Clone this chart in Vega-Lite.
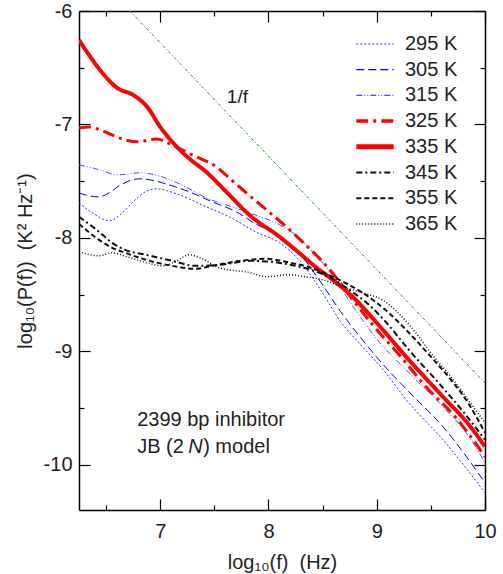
{
  "$schema": "https://vega.github.io/schema/vega-lite/v6.json",
  "width": 406,
  "height": 499,
  "autosize": {"type": "none"},
  "padding": {"left": 79, "top": 11, "right": 18, "bottom": 64},
  "config": {
    "view": {"stroke": null},
    "font": "Liberation Sans",
    "axis": {
      "domainColor": "#000",
      "domainWidth": 1.5,
      "tickColor": "#000",
      "tickWidth": 1.2,
      "labelFont": "Liberation Sans",
      "labelFontSize": 20,
      "labelColor": "#222",
      "titleFont": "Liberation Sans",
      "titleFontSize": 20,
      "titleFontWeight": "normal",
      "titleColor": "#222",
      "grid": false,
      "labelFlush": false,
      "labelOverlap": false,
      "labelBound": false
    },
    "legend": {
      "orient": "none",
      "legendX": 286,
      "legendY": 23,
      "padding": 0,
      "labelFont": "Liberation Sans",
      "labelFontSize": 20,
      "labelColor": "#222",
      "symbolType": "stroke",
      "symbolSize": 1400,
      "labelOffset": 20,
      "rowPadding": 5.7
    }
  },
  "datasets": {
    "curves": [
      {"T": "295 K", "x": 6.25, "y": -7.692},
      {"T": "295 K", "x": 6.389, "y": -7.789},
      {"T": "295 K", "x": 6.528, "y": -7.85},
      {"T": "295 K", "x": 6.63, "y": -7.797},
      {"T": "295 K", "x": 6.741, "y": -7.692},
      {"T": "295 K", "x": 6.861, "y": -7.595},
      {"T": "295 K", "x": 6.963, "y": -7.568},
      {"T": "295 K", "x": 7.176, "y": -7.621},
      {"T": "295 K", "x": 7.426, "y": -7.727},
      {"T": "295 K", "x": 7.639, "y": -7.815},
      {"T": "295 K", "x": 7.88, "y": -7.947},
      {"T": "295 K", "x": 8.102, "y": -8.044},
      {"T": "295 K", "x": 8.296, "y": -8.211},
      {"T": "295 K", "x": 8.481, "y": -8.458},
      {"T": "295 K", "x": 8.667, "y": -8.74},
      {"T": "295 K", "x": 8.852, "y": -8.943},
      {"T": "295 K", "x": 9.037, "y": -9.137},
      {"T": "295 K", "x": 9.296, "y": -9.454},
      {"T": "295 K", "x": 9.611, "y": -9.78},
      {"T": "295 K", "x": 10.0, "y": -10.247},

      {"T": "305 K", "x": 6.25, "y": -7.604},
      {"T": "305 K", "x": 6.343, "y": -7.63},
      {"T": "305 K", "x": 6.435, "y": -7.639},
      {"T": "305 K", "x": 6.528, "y": -7.604},
      {"T": "305 K", "x": 6.62, "y": -7.542},
      {"T": "305 K", "x": 6.806, "y": -7.48},
      {"T": "305 K", "x": 6.907, "y": -7.489},
      {"T": "305 K", "x": 7.019, "y": -7.515},
      {"T": "305 K", "x": 7.269, "y": -7.595},
      {"T": "305 K", "x": 7.481, "y": -7.683},
      {"T": "305 K", "x": 7.704, "y": -7.771},
      {"T": "305 K", "x": 7.88, "y": -7.877},
      {"T": "305 K", "x": 8.102, "y": -7.982},
      {"T": "305 K", "x": 8.296, "y": -8.15},
      {"T": "305 K", "x": 8.481, "y": -8.388},
      {"T": "305 K", "x": 8.667, "y": -8.652},
      {"T": "305 K", "x": 8.852, "y": -8.881},
      {"T": "305 K", "x": 9.037, "y": -9.093},
      {"T": "305 K", "x": 9.296, "y": -9.357},
      {"T": "305 K", "x": 9.611, "y": -9.665},
      {"T": "305 K", "x": 10.0, "y": -10.159},

      {"T": "315 K", "x": 6.25, "y": -7.357},
      {"T": "315 K", "x": 6.444, "y": -7.401},
      {"T": "315 K", "x": 6.602, "y": -7.445},
      {"T": "315 K", "x": 6.815, "y": -7.427},
      {"T": "315 K", "x": 7.019, "y": -7.463},
      {"T": "315 K", "x": 7.269, "y": -7.568},
      {"T": "315 K", "x": 7.426, "y": -7.648},
      {"T": "315 K", "x": 7.639, "y": -7.718},
      {"T": "315 K", "x": 7.852, "y": -7.789},
      {"T": "315 K", "x": 8.102, "y": -7.885},
      {"T": "315 K", "x": 8.25, "y": -7.974},
      {"T": "315 K", "x": 8.389, "y": -8.106},
      {"T": "315 K", "x": 8.574, "y": -8.308},
      {"T": "315 K", "x": 8.759, "y": -8.573},
      {"T": "315 K", "x": 8.991, "y": -8.881},
      {"T": "315 K", "x": 9.296, "y": -9.189},
      {"T": "315 K", "x": 9.611, "y": -9.489},
      {"T": "315 K", "x": 9.852, "y": -9.753},
      {"T": "315 K", "x": 10.0, "y": -9.982},

      {"T": "325 K", "x": 6.25, "y": -7.031},
      {"T": "325 K", "x": 6.343, "y": -7.022},
      {"T": "325 K", "x": 6.444, "y": -7.048},
      {"T": "325 K", "x": 6.556, "y": -7.093},
      {"T": "325 K", "x": 6.676, "y": -7.137},
      {"T": "325 K", "x": 6.787, "y": -7.154},
      {"T": "325 K", "x": 6.963, "y": -7.128},
      {"T": "325 K", "x": 7.111, "y": -7.181},
      {"T": "325 K", "x": 7.296, "y": -7.269},
      {"T": "325 K", "x": 7.519, "y": -7.374},
      {"T": "325 K", "x": 7.657, "y": -7.489},
      {"T": "325 K", "x": 7.796, "y": -7.604},
      {"T": "325 K", "x": 7.981, "y": -7.753},
      {"T": "325 K", "x": 8.176, "y": -7.912},
      {"T": "325 K", "x": 8.343, "y": -8.062},
      {"T": "325 K", "x": 8.5, "y": -8.211},
      {"T": "325 K", "x": 8.62, "y": -8.344},
      {"T": "325 K", "x": 8.778, "y": -8.546},
      {"T": "325 K", "x": 8.963, "y": -8.767},
      {"T": "325 K", "x": 9.222, "y": -9.048},
      {"T": "325 K", "x": 9.454, "y": -9.313},
      {"T": "325 K", "x": 9.731, "y": -9.586},
      {"T": "325 K", "x": 9.889, "y": -9.78},
      {"T": "325 K", "x": 10.0, "y": -9.93},

      {"T": "335 K", "x": 6.25, "y": -6.256},
      {"T": "335 K", "x": 6.343, "y": -6.388},
      {"T": "335 K", "x": 6.444, "y": -6.52},
      {"T": "335 K", "x": 6.602, "y": -6.678},
      {"T": "335 K", "x": 6.75, "y": -6.74},
      {"T": "335 K", "x": 6.88, "y": -6.846},
      {"T": "335 K", "x": 7.0, "y": -7.022},
      {"T": "335 K", "x": 7.12, "y": -7.163},
      {"T": "335 K", "x": 7.25, "y": -7.286},
      {"T": "335 K", "x": 7.435, "y": -7.427},
      {"T": "335 K", "x": 7.62, "y": -7.604},
      {"T": "335 K", "x": 7.833, "y": -7.806},
      {"T": "335 K", "x": 8.102, "y": -7.991},
      {"T": "335 K", "x": 8.25, "y": -8.106},
      {"T": "335 K", "x": 8.435, "y": -8.256},
      {"T": "335 K", "x": 8.593, "y": -8.37},
      {"T": "335 K", "x": 8.778, "y": -8.52},
      {"T": "335 K", "x": 8.991, "y": -8.74},
      {"T": "335 K", "x": 9.296, "y": -9.075},
      {"T": "335 K", "x": 9.611, "y": -9.401},
      {"T": "335 K", "x": 9.852, "y": -9.648},
      {"T": "335 K", "x": 10.0, "y": -9.841},

      {"T": "345 K", "x": 6.25, "y": -7.815},
      {"T": "345 K", "x": 6.435, "y": -7.947},
      {"T": "345 K", "x": 6.556, "y": -8.044},
      {"T": "345 K", "x": 6.676, "y": -8.106},
      {"T": "345 K", "x": 6.87, "y": -8.15},
      {"T": "345 K", "x": 7.111, "y": -8.203},
      {"T": "345 K", "x": 7.324, "y": -8.247},
      {"T": "345 K", "x": 7.556, "y": -8.238},
      {"T": "345 K", "x": 7.833, "y": -8.203},
      {"T": "345 K", "x": 8.019, "y": -8.211},
      {"T": "345 K", "x": 8.204, "y": -8.238},
      {"T": "345 K", "x": 8.389, "y": -8.282},
      {"T": "345 K", "x": 8.574, "y": -8.352},
      {"T": "345 K", "x": 8.759, "y": -8.467},
      {"T": "345 K", "x": 8.917, "y": -8.581},
      {"T": "345 K", "x": 9.065, "y": -8.722},
      {"T": "345 K", "x": 9.296, "y": -8.987},
      {"T": "345 K", "x": 9.611, "y": -9.322},
      {"T": "345 K", "x": 9.806, "y": -9.542},
      {"T": "345 K", "x": 10.0, "y": -9.78},

      {"T": "355 K", "x": 6.25, "y": -7.877},
      {"T": "355 K", "x": 6.435, "y": -8.018},
      {"T": "355 K", "x": 6.556, "y": -8.088},
      {"T": "355 K", "x": 6.676, "y": -8.132},
      {"T": "355 K", "x": 6.87, "y": -8.194},
      {"T": "355 K", "x": 7.111, "y": -8.247},
      {"T": "355 K", "x": 7.324, "y": -8.273},
      {"T": "355 K", "x": 7.481, "y": -8.247},
      {"T": "355 K", "x": 7.741, "y": -8.203},
      {"T": "355 K", "x": 7.972, "y": -8.185},
      {"T": "355 K", "x": 8.204, "y": -8.22},
      {"T": "355 K", "x": 8.389, "y": -8.264},
      {"T": "355 K", "x": 8.574, "y": -8.335},
      {"T": "355 K", "x": 8.759, "y": -8.423},
      {"T": "355 K", "x": 8.963, "y": -8.546},
      {"T": "355 K", "x": 9.13, "y": -8.678},
      {"T": "355 K", "x": 9.315, "y": -8.855},
      {"T": "355 K", "x": 9.5, "y": -9.048},
      {"T": "355 K", "x": 9.685, "y": -9.251},
      {"T": "355 K", "x": 9.843, "y": -9.454},
      {"T": "355 K", "x": 10.0, "y": -9.718},

      {"T": "365 K", "x": 6.25, "y": -8.123},
      {"T": "365 K", "x": 6.435, "y": -8.159},
      {"T": "365 K", "x": 6.556, "y": -8.132},
      {"T": "365 K", "x": 6.694, "y": -8.167},
      {"T": "365 K", "x": 6.88, "y": -8.22},
      {"T": "365 K", "x": 7.019, "y": -8.247},
      {"T": "365 K", "x": 7.139, "y": -8.211},
      {"T": "365 K", "x": 7.269, "y": -8.15},
      {"T": "365 K", "x": 7.37, "y": -8.176},
      {"T": "365 K", "x": 7.546, "y": -8.264},
      {"T": "365 K", "x": 7.833, "y": -8.308},
      {"T": "365 K", "x": 7.981, "y": -8.344},
      {"T": "365 K", "x": 8.185, "y": -8.326},
      {"T": "365 K", "x": 8.343, "y": -8.344},
      {"T": "365 K", "x": 8.5, "y": -8.37},
      {"T": "365 K", "x": 8.685, "y": -8.432},
      {"T": "365 K", "x": 8.87, "y": -8.485},
      {"T": "365 K", "x": 9.065, "y": -8.555},
      {"T": "365 K", "x": 9.315, "y": -8.784},
      {"T": "365 K", "x": 9.528, "y": -9.048},
      {"T": "365 K", "x": 9.685, "y": -9.225},
      {"T": "365 K", "x": 9.843, "y": -9.427},
      {"T": "365 K", "x": 10.0, "y": -9.63}
    ],
    "ref": [
      {"x": 6.72, "y": -6.0},
      {"x": 10.0, "y": -9.28}
    ]
  },
  "layer": [
    {
      "data": {"name": "ref"},
      "mark": {"type": "line", "color": "#1f8f1f", "strokeWidth": 1, "strokeDash": [3, 2, 1, 2], "clip": true},
      "encoding": {
        "x": {"field": "x", "type": "quantitative",
              "scale": {"domain": [6.25, 10], "nice": false, "zero": false},
              "axis": {"orient": "top", "values": [6.5, 7, 7.5, 8, 8.5, 9, 9.5, 10], "labels": false, "title": null,
                       "tickSize": {"condition": {"test": "datum.value % 1 === 0", "value": -11}, "value": -5}}},
        "y": {"field": "y", "type": "quantitative",
              "scale": {"domain": [-10.4, -6], "nice": false, "zero": false},
              "axis": {"orient": "right", "values": [-10, -9.5, -9, -8.5, -8, -7.5, -7, -6.5, -6], "labels": false, "title": null,
                       "tickSize": {"condition": {"test": "datum.value % 1 === 0", "value": -11}, "value": -5}}}
      }
    },
    {
      "data": {"name": "curves"},
      "mark": {"type": "line", "interpolate": "monotone", "clip": true},
      "encoding": {
        "x": {"field": "x", "type": "quantitative",
              "scale": {"domain": [6.25, 10], "nice": false, "zero": false},
              "axis": {"orient": "bottom", "values": [6.5, 7, 7.5, 8, 8.5, 9, 9.5, 10],
                       "labelExpr": "datum.value % 1 === 0 ? '' + datum.value : ''",
                       "labelPadding": 22,
                       "title": "log₁₀(f)\u00a0\u00a0(Hz)", "titlePadding": 5,
                       "tickSize": {"condition": {"test": "datum.value % 1 === 0", "value": -11}, "value": -5}}},
        "y": {"field": "y", "type": "quantitative",
              "scale": {"domain": [-10.4, -6], "nice": false, "zero": false},
              "axis": {"orient": "left", "values": [-10, -9.5, -9, -8.5, -8, -7.5, -7, -6.5, -6],
                       "labelExpr": "datum.value % 1 === 0 ? '' + datum.value : ''",
                       "labelPadding": 18,
                       "title": "log₁₀(P(f))\u00a0\u00a0(K² Hz⁻¹)", "titlePadding": 8,
                       "tickSize": {"condition": {"test": "datum.value % 1 === 0", "value": -11}, "value": -5}}},
        "color": {"field": "T", "type": "nominal",
                  "scale": {"domain": ["295 K", "305 K", "315 K", "325 K", "335 K", "345 K", "355 K", "365 K"],
                            "range": ["#2a2aff", "#0000ee", "#4a4aff", "#ff0000", "#ff0000", "#111111", "#111111", "#111111"]},
                  "legend": {"title": null,
                             "encode": {"symbols": {"update": {
                               "strokeDash": {"scale": "strokeDash", "field": "value"},
                               "strokeWidth": {"signal": "datum.value === '335 K' ? 5 : datum.value === '325 K' ? 3.5 : (datum.value === '345 K' || datum.value === '355 K') ? 2 : datum.value === '365 K' ? 1.5 : 1.2"}
                             }}}}},
        "strokeDash": {"field": "T", "type": "nominal",
                       "scale": {"domain": ["295 K", "305 K", "315 K", "325 K", "335 K", "345 K", "355 K", "365 K"],
                                 "range": [[2, 2], [8, 4], [6, 2, 1, 2, 1, 2], [12, 5, 3, 5], [1, 0], [6, 3, 2, 3], [5, 3], [1, 2]]},
                       "legend": null},
        "strokeWidth": {
          "condition": [
            {"test": "datum.T === '335 K'", "value": 4},
            {"test": "datum.T === '325 K'", "value": 3},
            {"test": "datum.T === '345 K' || datum.T === '355 K'", "value": 2},
            {"test": "datum.T === '365 K'", "value": 1.5}
          ],
          "value": 1
        }
      }
    },
    {
      "data": {"values": [
        {"x": 7.713, "y": -6.76, "t": "1/f"}
      ]},
      "mark": {"type": "text", "fontSize": 19, "font": "Liberation Sans", "color": "#222", "align": "center", "baseline": "middle"},
      "encoding": {
        "x": {"field": "x", "type": "quantitative", "axis": null},
        "y": {"field": "y", "type": "quantitative", "axis": null},
        "text": {"field": "t"}
      }
    },
    {
      "data": {"values": [
        {"x": 6.787, "y": -9.604, "t": "2399 bp inhibitor"},
        {"x": 6.787, "y": -9.841, "t": "JB (2"}
      ]},
      "mark": {"type": "text", "fontSize": 20, "font": "Liberation Sans", "color": "#222", "align": "left", "baseline": "middle"},
      "encoding": {
        "x": {"field": "x", "type": "quantitative", "axis": null},
        "y": {"field": "y", "type": "quantitative", "axis": null},
        "text": {"field": "t"}
      }
    },
    {
      "data": {"values": [
        {"x": 6.787, "y": -9.841, "t": "N"}
      ]},
      "mark": {"type": "text", "fontSize": 20, "font": "Liberation Sans", "fontStyle": "italic", "color": "#222", "align": "left", "baseline": "middle", "dx": 51},
      "encoding": {
        "x": {"field": "x", "type": "quantitative", "axis": null},
        "y": {"field": "y", "type": "quantitative", "axis": null},
        "text": {"field": "t"}
      }
    },
    {
      "data": {"values": [
        {"x": 6.787, "y": -9.841, "t": ") model"}
      ]},
      "mark": {"type": "text", "fontSize": 20, "font": "Liberation Sans", "color": "#222", "align": "left", "baseline": "middle", "dx": 66},
      "encoding": {
        "x": {"field": "x", "type": "quantitative", "axis": null},
        "y": {"field": "y", "type": "quantitative", "axis": null},
        "text": {"field": "t"}
      }
    }
  ],
  "resolve": {"axis": {"x": "independent", "y": "independent"}}
}
